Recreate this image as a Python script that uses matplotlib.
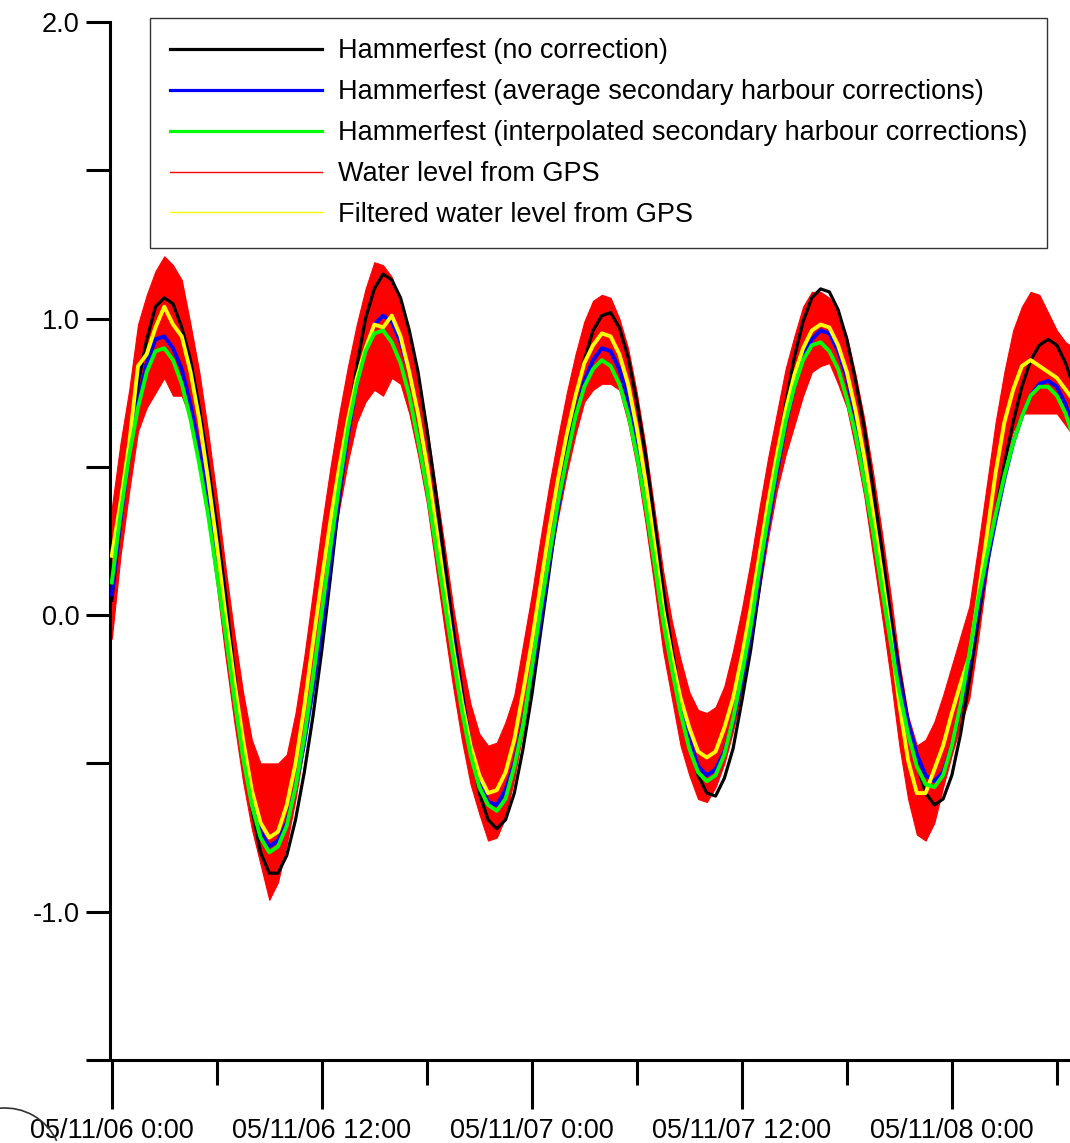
import matplotlib
matplotlib.use("Agg")
import matplotlib.pyplot as plt
import matplotlib.dates as mdates
from matplotlib.lines import Line2D
from matplotlib.patches import Arc
from matplotlib.ticker import MultipleLocator, FuncFormatter
import pandas as pd

plt.rcParams['font.family'] = ['Liberation Sans', 'DejaVu Sans']
plt.rcParams['axes.unicode_minus'] = False

# half-hourly samples, water level in metres
times = pd.date_range("2005-11-06 00:00", periods=111, freq="30min").to_pydatetime()

no_corr = [0.05, 0.32, 0.57, 0.78, 0.93, 1.04, 1.07, 1.05, 0.97, 0.86,
           0.70, 0.51, 0.30, 0.07, -0.19, -0.44, -0.65, -0.80, -0.87, -0.87,
           -0.81, -0.69, -0.53, -0.34, -0.12, 0.13, 0.39, 0.63, 0.84, 1.00,
           1.10, 1.15, 1.13, 1.07, 0.96, 0.82, 0.63, 0.42, 0.19, -0.04,
           -0.25, -0.44, -0.60, -0.69, -0.72, -0.69, -0.60, -0.45, -0.27, -0.06,
           0.15, 0.37, 0.56, 0.73, 0.86, 0.96, 1.01, 1.02, 0.97, 0.87,
           0.72, 0.54, 0.32, 0.09, -0.11, -0.28, -0.43, -0.54, -0.60, -0.61,
           -0.55, -0.45, -0.29, -0.12, 0.09, 0.32, 0.52, 0.71, 0.87, 0.99,
           1.07, 1.10, 1.09, 1.03, 0.93, 0.79, 0.63, 0.43, 0.22, 0.00,
           -0.19, -0.36, -0.50, -0.60, -0.64, -0.62, -0.54, -0.40, -0.22, -0.02,
           0.17, 0.34, 0.51, 0.65, 0.77, 0.86, 0.91, 0.93, 0.91, 0.85,
           0.76]
avg_corr = [0.07, 0.32, 0.54, 0.72, 0.85, 0.93, 0.94, 0.90, 0.83, 0.71,
            0.56, 0.39, 0.20, 0.00, -0.23, -0.44, -0.61, -0.73, -0.78, -0.76,
            -0.70, -0.58, -0.43, -0.25, -0.05, 0.18, 0.41, 0.61, 0.78, 0.90,
            0.98, 1.01, 0.99, 0.92, 0.82, 0.68, 0.51, 0.32, 0.11, -0.09,
            -0.28, -0.44, -0.56, -0.63, -0.64, -0.59, -0.50, -0.36, -0.20, -0.02,
            0.18, 0.36, 0.53, 0.67, 0.79, 0.86, 0.90, 0.89, 0.83, 0.73,
            0.59, 0.42, 0.23, 0.02, -0.15, -0.30, -0.42, -0.51, -0.54, -0.52,
            -0.46, -0.36, -0.22, -0.07, 0.12, 0.30, 0.48, 0.64, 0.77, 0.87,
            0.93, 0.96, 0.95, 0.89, 0.80, 0.67, 0.51, 0.33, 0.14, -0.05,
            -0.22, -0.36, -0.47, -0.54, -0.56, -0.53, -0.44, -0.31, -0.16, 0.02,
            0.17, 0.32, 0.46, 0.58, 0.67, 0.74, 0.78, 0.79, 0.77, 0.71,
            0.62]
interp_corr = [0.11, 0.34, 0.54, 0.70, 0.82, 0.89, 0.90, 0.86, 0.78, 0.66,
               0.51, 0.34, 0.14, -0.06, -0.28, -0.48, -0.64, -0.75, -0.80, -0.78,
               -0.71, -0.58, -0.41, -0.21, 0.01, 0.23, 0.44, 0.63, 0.78, 0.89,
               0.95, 0.96, 0.92, 0.85, 0.74, 0.59, 0.43, 0.24, 0.05, -0.14,
               -0.32, -0.47, -0.58, -0.64, -0.66, -0.62, -0.51, -0.37, -0.18, 0.02,
               0.20, 0.38, 0.53, 0.67, 0.77, 0.83, 0.86, 0.84, 0.78, 0.68,
               0.54, 0.37, 0.18, -0.02, -0.18, -0.33, -0.45, -0.53, -0.56, -0.54,
               -0.47, -0.35, -0.20, -0.04, 0.15, 0.33, 0.50, 0.65, 0.77, 0.86,
               0.91, 0.92, 0.89, 0.83, 0.73, 0.61, 0.45, 0.28, 0.09, -0.09,
               -0.26, -0.40, -0.51, -0.57, -0.58, -0.54, -0.44, -0.30, -0.13, 0.05,
               0.20, 0.34, 0.47, 0.58, 0.67, 0.74, 0.77, 0.77, 0.74, 0.68,
               0.59]
gps_filtered = [0.20, 0.38, 0.58, 0.84, 0.88, 0.97, 1.04, 0.98, 0.94, 0.82,
                0.66, 0.46, 0.24, 0.00, -0.22, -0.42, -0.59, -0.70, -0.75, -0.73,
                -0.64, -0.50, -0.31, -0.09, 0.12, 0.32, 0.50, 0.66, 0.80, 0.90,
                0.98, 0.97, 1.01, 0.94, 0.82, 0.68, 0.51, 0.31, 0.10, -0.11,
                -0.29, -0.44, -0.54, -0.60, -0.59, -0.53, -0.42, -0.26, -0.09, 0.10,
                0.29, 0.46, 0.61, 0.74, 0.85, 0.91, 0.95, 0.94, 0.88, 0.78,
                0.63, 0.45, 0.24, 0.02, -0.14, -0.28, -0.38, -0.46, -0.48, -0.46,
                -0.38, -0.28, -0.14, 0.02, 0.20, 0.38, 0.54, 0.69, 0.81, 0.90,
                0.96, 0.98, 0.97, 0.91, 0.82, 0.69, 0.53, 0.34, 0.14, -0.07,
                -0.30, -0.49, -0.60, -0.60, -0.52, -0.44, -0.33, -0.23, -0.14, 0.06,
                0.27, 0.48, 0.65, 0.76, 0.84, 0.86, 0.84, 0.82, 0.80, 0.76,
                0.72]
# spread of the raw GPS water level (max / min within each half hour)
gps_raw_hi = [0.36, 0.58, 0.76, 0.98, 1.08, 1.16, 1.21, 1.18, 1.13, 0.98,
              0.82, 0.62, 0.40, 0.16, -0.06, -0.26, -0.42, -0.50, -0.50, -0.50,
              -0.47, -0.33, -0.14, 0.08, 0.30, 0.50, 0.68, 0.84, 0.98, 1.10,
              1.19, 1.18, 1.14, 1.06, 0.94, 0.80, 0.64, 0.44, 0.24, 0.03,
              -0.15, -0.30, -0.40, -0.44, -0.43, -0.36, -0.27, -0.10, 0.07, 0.26,
              0.44, 0.60, 0.75, 0.88, 0.99, 1.06, 1.08, 1.07, 1.00, 0.90,
              0.75, 0.57, 0.36, 0.15, -0.02, -0.15, -0.26, -0.32, -0.33, -0.31,
              -0.24, -0.12, 0.02, 0.18, 0.36, 0.53, 0.68, 0.83, 0.94, 1.04,
              1.09, 1.09, 1.07, 1.02, 0.94, 0.81, 0.66, 0.48, 0.28, 0.07,
              -0.16, -0.34, -0.44, -0.42, -0.36, -0.27, -0.17, -0.07, 0.03, 0.23,
              0.44, 0.65, 0.82, 0.96, 1.04, 1.09, 1.08, 1.02, 0.96, 0.92,
              0.90]
gps_raw_lo = [-0.08, 0.20, 0.42, 0.62, 0.70, 0.75, 0.80, 0.74, 0.74, 0.66,
              0.52, 0.32, 0.10, -0.14, -0.36, -0.56, -0.72, -0.84, -0.96, -0.90,
              -0.77, -0.62, -0.44, -0.22, -0.02, 0.18, 0.36, 0.52, 0.65, 0.72,
              0.76, 0.74, 0.80, 0.78, 0.68, 0.54, 0.38, 0.17, -0.04, -0.24,
              -0.42, -0.57, -0.67, -0.76, -0.75, -0.68, -0.55, -0.39, -0.22, -0.03,
              0.16, 0.33, 0.48, 0.61, 0.72, 0.76, 0.78, 0.78, 0.76, 0.65,
              0.50, 0.31, 0.10, -0.12, -0.28, -0.44, -0.54, -0.62, -0.63, -0.58,
              -0.50, -0.39, -0.26, -0.10, 0.08, 0.26, 0.42, 0.54, 0.64, 0.74,
              0.82, 0.84, 0.85, 0.78, 0.70, 0.56, 0.40, 0.20, 0.00, -0.21,
              -0.44, -0.62, -0.74, -0.76, -0.70, -0.58, -0.47, -0.37, -0.28, -0.08,
              0.14, 0.35, 0.52, 0.62, 0.68, 0.68, 0.68, 0.68, 0.68, 0.64,
              0.60]

labels = ['Hammerfest (no correction)',
          'Hammerfest (average secondary harbour corrections)',
          'Hammerfest (interpolated secondary harbour corrections)',
          'Water level from GPS',
          'Filtered water level from GPS']

W, H = 1070, 1143
fig = plt.figure(figsize=(W / 100, H / 100), dpi=100)
ax = fig.add_axes([110 / W, 1 - 1060 / H, 1 - 110 / W, (1060 - 22) / H])

ax.fill_between(times, gps_raw_lo, gps_raw_hi, color='#ff0000', lw=0.8, zorder=1)
ax.plot(times, no_corr, color='black', lw=2.3, zorder=2)
ax.plot(times, avg_corr, color='#0000ff', lw=2.8, zorder=3)
ax.plot(times, gps_filtered, color='#ffff00', lw=2.8, zorder=4)
ax.plot(times, interp_corr, color='#00ff00', lw=2.8, zorder=5)

t0 = pd.Timestamp("2005-11-06 00:00")
ax.set_xlim(t0 - pd.Timedelta(minutes=6), t0 + pd.Timedelta(hours=54.75))
ax.set_ylim(-1.5, 2.0)

for s in ('top', 'right'):
    ax.spines[s].set_visible(False)
for s in ('left', 'bottom'):
    ax.spines[s].set_linewidth(2.2)

ax.yaxis.set_major_locator(MultipleLocator(0.5))
ax.yaxis.set_major_formatter(FuncFormatter(
    lambda v, p: f"{v:.1f}" if abs(v - round(v)) < 1e-6 else ""))
ax.xaxis.set_major_locator(mdates.HourLocator(byhour=[0, 12]))
ax.xaxis.set_minor_locator(mdates.HourLocator(byhour=[6, 18]))


def fmt_time(x, pos):
    d = mdates.num2date(x)
    return f"{d:%y/%m/%d} {d.hour}:{d:%M}"


ax.xaxis.set_major_formatter(FuncFormatter(fmt_time))
ax.tick_params(axis='y', direction='out', length=17, width=2.2, pad=5, labelsize=19.5)
ax.tick_params(axis='x', which='major', direction='out', length=35, width=2.2,
               pad=7, labelsize=19.5)
ax.tick_params(axis='x', which='minor', direction='out', length=18, width=2.2)

handles = [Line2D([], [], color='black', lw=2.3),
           Line2D([], [], color='#0000ff', lw=2.3),
           Line2D([], [], color='#00ff00', lw=2.3),
           Line2D([], [], color='#ff0000', lw=1.0),
           Line2D([], [], color='#ffff00', lw=1.0)]
leg = ax.legend(handles, labels, loc='upper left',
                bbox_to_anchor=(150 / W, 1 - 18 / H), bbox_transform=fig.transFigure,
                borderaxespad=0, fontsize=19.5, handlelength=5.6, handletextpad=0.58,
                labelspacing=0.55, borderpad=0.75, frameon=True, fancybox=False,
                edgecolor='#333333', framealpha=1)
leg.get_frame().set_linewidth(1.0)

arc = Arc((0.05, -0.22), 1.14, 1.14, theta1=25, theta2=95, color='#333333',
          lw=1.2, transform=fig.dpi_scale_trans, clip_on=False)
fig.add_artist(arc)

fig.savefig('out.png', dpi=100)
